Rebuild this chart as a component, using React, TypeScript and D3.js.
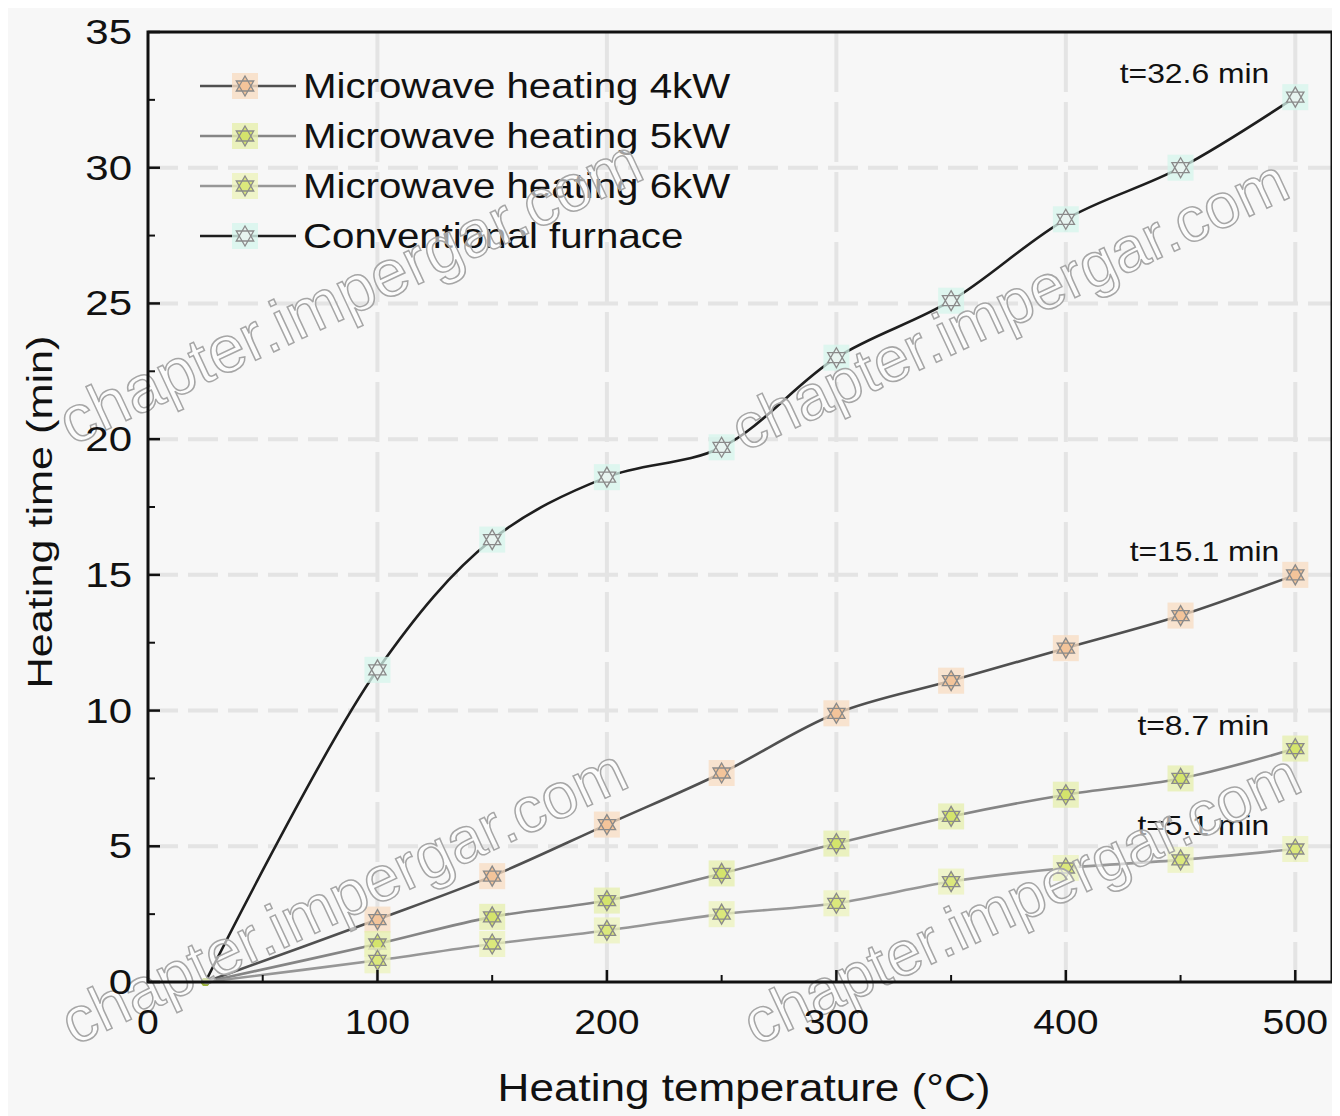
import * as d3 from "d3";

// heating temperature (°C) where times were recorded
const temps = [25, 100, 150, 200, 250, 300, 350, 400, 450, 500];
// heating time (min)
const mw4kW = [0, 2.3, 3.9, 5.8, 7.7, 9.9, 11.1, 12.3, 13.5, 15.0];
const mw5kW = [0, 1.4, 2.4, 3.0, 4.0, 5.1, 6.1, 6.9, 7.5, 8.6];
const mw6kW = [0, 0.8, 1.4, 1.9, 2.5, 2.9, 3.7, 4.2, 4.5, 4.9];
const furnace = [0, 11.5, 16.3, 18.6, 19.7, 23.0, 25.1, 28.1, 30.0, 32.6];

const seriesNames = [
  "Microwave heating 4kW",
  "Microwave heating 5kW",
  "Microwave heating 6kW",
  "Conventional furnace",
];
const endLabels = ["t=15.1 min", "t=8.7 min", "t=5.1 min", "t=32.6 min"];
const xTicks = [0, 100, 200, 300, 400, 500];
const yTicks = [0, 5, 10, 15, 20, 25, 30, 35];
const watermark = "chapter.impergar.com";

const FONT = "'Liberation Sans', Arial, Helvetica, sans-serif";

const series = [
  { name: seriesNames[0], values: mw4kW, line: "#505050", fill: "#f3c49a", blot: "#f8dcc2", label: endLabels[0] },
  { name: seriesNames[1], values: mw5kW, line: "#858585", fill: "#d4e46c", blot: "#e6efac", label: endLabels[1] },
  { name: seriesNames[2], values: mw6kW, line: "#979797", fill: "#dbe87c", blot: "#ecf3bc", label: endLabels[2] },
  { name: seriesNames[3], values: furnace, line: "#1e1e1e", fill: "#e8f4f0", blot: "#d6f5ec", label: endLabels[3] },
];

// plot frame in page coordinates
const L = 148, R = 1332, T = 32, B = 982;

function hexagram(cx: number, cy: number, r: number) {
  const pt = (a: number) => {
    const t = (a * Math.PI) / 180;
    return `${(cx + r * Math.cos(t)).toFixed(1)},${(cy + r * Math.sin(t)).toFixed(1)}`;
  };
  return `M${pt(-90)}L${pt(30)}L${pt(150)}Z M${pt(90)}L${pt(210)}L${pt(330)}Z`;
}

function SText({ x, y, text, fs, sx = 1.15, anchor = "start", rotate = 0, fill = "#111" }: any) {
  return (
    <g transform={`translate(${x},${y}) rotate(${rotate}) scale(${sx},1)`}>
      <text x={0} y={0} fontSize={fs} fontFamily={FONT} textAnchor={anchor} fill={fill}>
        {text}
      </text>
    </g>
  );
}

export default function App() {
  const x = d3.scaleLinear().domain([0, 516]).range([L, R]);
  const y = d3.scaleLinear().domain([0, 35]).range([B, T]);

  const line = d3
    .line<number>()
    .x((_, i) => x(temps[i]))
    .y((d) => y(d))
    .curve(d3.curveCatmullRom.alpha(0.5));

  const xMinor = d3.range(50, 516, 100);
  const yMinor = d3.range(2.5, 35, 5);

  // watermark baseline start and font size
  const wmStarts = [
    [72, 446, 66],
    [744, 452, 63],
    [74, 1046, 64],
    [756, 1046, 63],
  ];

  return (
    <svg width={1332} height={1108} style={{ display: "block" }}>
      <g transform="translate(-8,-8)">
        <rect x={8} y={8} width={1332} height={1108} fill="#f7f7f7" />

        {/* grid */}
        {xTicks.slice(1).map((t) => (
          <line key={"gx" + t} x1={x(t)} x2={x(t)} y1={T} y2={B} stroke="#e4e4e4" strokeWidth={4} strokeDasharray="60,10" />
        ))}
        {yTicks.slice(1, -1).map((t) => (
          <line key={"gy" + t} x1={L} x2={R} y1={y(t)} y2={y(t)} stroke="#e4e4e4" strokeWidth={4} strokeDasharray="30,10" />
        ))}

        {/* series */}
        {series.map((s) => (
          <path key={s.name} d={line(s.values) || ""} fill="none" stroke={s.line} strokeWidth={2.6} />
        ))}
        {series.map((s) =>
          s.values.map((v, i) =>
            i === 0 ? null : (
              <g key={s.name + i}>
                <rect x={x(temps[i]) - 13} y={y(v) - 13} width={26} height={26} fill={s.blot} opacity={0.75} />
                <path d={hexagram(x(temps[i]), y(v), 10)} fill={s.fill} stroke="#8a8a8a" strokeWidth={1.3} />
              </g>
            )
          )
        )}
        {series.map((s) => (
          <circle key={s.name + "o"} cx={x(temps[0])} cy={y(s.values[0])} r={4} fill="#9bb33a" />
        ))}

        {/* end labels */}
        {series.map((s) => (
          <SText
            key={s.label}
            x={x(500) - (s.label === "t=15.1 min" ? 16 : 26)}
            y={y(s.values[s.values.length - 1]) - 14}
            text={s.label}
            fs={27}
            sx={1.18}
            anchor="end"
          />
        ))}

        {/* legend */}
        {series.map((s, i) => {
          const ly = 86 + i * 50;
          return (
            <g key={"lg" + i}>
              <line x1={200} x2={296} y1={ly} y2={ly} stroke={s.line} strokeWidth={2.6} />
              <rect x={232} y={ly - 13} width={26} height={26} fill={s.blot} opacity={0.8} />
              <path d={hexagram(245, ly, 10)} fill={s.fill} stroke="#8a8a8a" strokeWidth={1.3} />
              <SText x={303} y={ly + 12} text={s.name} fs={35} sx={1.15} />
            </g>
          );
        })}

        {/* watermarks */}
        {wmStarts.map(([wx, wy, fs], i) => (
          <g key={"wm" + i} transform={`translate(${wx},${wy}) rotate(-25)`}>
            <text x={0} y={0} fontSize={fs} fontFamily={FONT} fill="#ffffff" fillOpacity={0.6} stroke="#a6a6a6" strokeWidth={1.5}>
              {watermark}
            </text>
          </g>
        ))}

        {/* frame */}
        <rect x={L} y={T} width={R - L} height={B - T} fill="none" stroke="#111" strokeWidth={3} />

        {/* ticks */}
        {xTicks.map((t) => (
          <line key={"xt" + t} x1={x(t)} x2={x(t)} y1={B} y2={B - 12} stroke="#111" strokeWidth={2.5} />
        ))}
        {xMinor.map((t) => (
          <line key={"xm" + t} x1={x(t)} x2={x(t)} y1={B} y2={B - 7} stroke="#111" strokeWidth={2} />
        ))}
        {yTicks.map((t) => (
          <line key={"yt" + t} x1={L} x2={L + 12} y1={y(t)} y2={y(t)} stroke="#111" strokeWidth={2.5} />
        ))}
        {yMinor.map((t) => (
          <line key={"ym" + t} x1={L} x2={L + 7} y1={y(t)} y2={y(t)} stroke="#111" strokeWidth={2} />
        ))}

        {/* tick labels */}
        {xTicks.map((t) => (
          <SText key={"xl" + t} x={x(t)} y={B + 52} text={String(t)} fs={35} sx={1.12} anchor="middle" />
        ))}
        {yTicks.map((t) => (
          <SText key={"yl" + t} x={L - 16} y={y(t) + 12} text={String(t)} fs={35} sx={1.2} anchor="end" />
        ))}

        {/* axis titles */}
        <SText x={744} y={1101} text="Heating temperature (°C)" fs={38} sx={1.16} anchor="middle" />
        <SText x={52} y={512} text="Heating time (min)" fs={36} sx={1.2} anchor="middle" rotate={-90} />
      </g>
    </svg>
  );
}
